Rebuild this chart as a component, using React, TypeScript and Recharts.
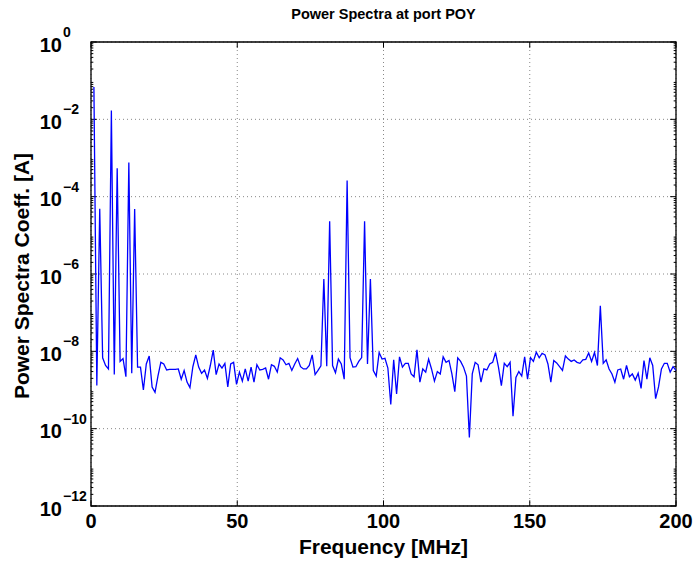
import React from "react";
import {
  LineChart, Line, XAxis, YAxis, CartesianGrid, ReferenceLine, ReferenceArea, Label,
} from "recharts";

const FONT = "'Liberation Sans', Arial, Helvetica, sans-serif";
const BLUE = "#0000ff";

// frequency grid: 201 bins across 0..200 MHz
const FREQ_STEP = 200 / 201;

// power coefficients [A], bin by bin
const band1 = [
  6.9e-2, 1.3e-9, 4.9e-5, 6.8e-9, 4.3e-9, 3.5e-9, 1.7e-2, 2.5e-9, 5.4e-4, 5.5e-9,
  6.5e-9, 2.2e-9, 7.6e-4, 2.7e-9, 4.8e-5, 3.9e-9, 3.9e-9, 1.0e-9, 4.7e-9, 7.6e-9,
  1.2e-9, 8.7e-10, 2.3e-9, 5.2e-9, 4.7e-9, 3.3e-9, 3.4e-9, 3.4e-9, 3.4e-9, 3.5e-9,
  1.9e-9, 3.2e-9, 1.6e-9, 1.15e-9,
];
const band2 = [
  4.0e-9, 8.1e-9, 3.9e-9, 2.7e-9, 3.3e-9, 2.0e-9, 4.3e-9, 1.07e-8, 2.5e-9, 4.7e-9,
  3.7e-9, 4.9e-9, 1.2e-9, 4.7e-9, 5.2e-9, 1.4e-9, 2.9e-9, 1.7e-9, 3.5e-9, 1.7e-9,
  3.9e-9, 1.6e-9, 4.5e-9, 3.3e-9, 3.4e-9, 3.7e-9, 1.9e-9, 4.5e-9, 4.1e-9, 2.9e-9,
  6.8e-9, 6.0e-9, 4.5e-9, 4.9e-9,
];
const band3 = [
  3.2e-9, 4.7e-9, 6.5e-9, 4.0e-9, 3.5e-9, 3.5e-9, 4.3e-9, 8.1e-9, 2.5e-9, 3.2e-9,
  4.2e-9, 7.4e-7, 4.1e-9, 2.3e-5, 4.3e-9, 2.8e-9, 6.3e-9, 4.7e-9, 1.9e-9, 2.6e-4,
  6.9e-9, 3.9e-9, 4.0e-9, 5.5e-9, 6.9e-9, 2.3e-5, 4.7e-9, 7.4e-7, 3.2e-9, 2.3e-9,
  9.3e-9, 6.3e-9, 6.6e-9, 3.7e-9,
];
const band4 = [
  4.2e-10, 6.0e-9, 7.9e-10, 7.2e-9, 3.9e-9, 4.9e-9, 4.9e-9, 2.6e-9, 2.2e-9, 1.1e-8,
  1.6e-9, 3.5e-9, 2.9e-9, 6.3e-9, 3.5e-9, 1.7e-9, 3.0e-9, 2.6e-9, 7.2e-9, 5.2e-9,
  5.8e-9, 2.6e-9, 9.1e-10, 6.8e-9, 5.5e-9, 3.9e-9, 2.3e-9, 5.9e-11, 2.6e-9, 5.2e-9,
  4.5e-9, 1.6e-9, 3.5e-9, 3.3e-9,
];
const band5 = [
  4.7e-9, 5.2e-9, 9.3e-9, 3.9e-9, 1.3e-9, 4.9e-9, 4.0e-9, 5.2e-9, 2.1e-10, 2.1e-9,
  3.0e-9, 2.3e-9, 7.2e-9, 1.9e-9, 6.9e-9, 5.5e-9, 9.5e-9, 6.8e-9, 8.9e-9, 8.1e-9,
  4.7e-9, 1.6e-9, 5.8e-9, 5.0e-9, 4.0e-9, 3.2e-9, 7.6e-9, 6.3e-9, 5.5e-9, 6.0e-9,
  5.2e-9, 4.9e-9, 6.0e-9, 6.2e-9,
];
const band6 = [
  9.1e-9, 5.5e-9, 9.3e-9, 4.3e-9, 1.5e-7, 4.9e-9, 6.0e-9, 3.5e-9, 2.6e-9, 1.6e-9,
  3.3e-9, 3.5e-9, 1.9e-9, 4.3e-9, 2.2e-9, 2.6e-9, 1.8e-9, 2.7e-9, 1.1e-9, 5.8e-9,
  1.9e-9, 6.8e-9, 4.3e-9, 6.0e-10, 1.2e-9, 3.5e-9, 4.9e-9, 4.9e-9, 2.9e-9, 4.0e-9,
  3.2e-9,
];

const X_TICKS = [0, 50, 100, 150, 200];
const Y_TICKS = [1e-12, 1e-10, 1e-8, 1e-6, 1e-4, 1e-2, 1];
const Y_MIN = 1e-12;
const Y_MAX = 1;

const power = [...band1, ...band2, ...band3, ...band4, ...band5, ...band6];
const data = power.map((p, i) => ({ f: (i + 1) * FREQ_STEP, p }));

// minor log ticks (2..9 x 10^n) like matlab draws them
const minorTicks: number[] = [];
for (let e = -12; e < 0; e++) {
  for (let m = 2; m <= 9; m++) minorTicks.push(m * Math.pow(10, e));
}

const YTick = ({ x, y, payload }: any) => {
  const exp = Math.round(Math.log10(payload.value));
  return (
    <g>
      <text x={x - 29} y={y + 9.5} textAnchor="end" fontSize={20} fontWeight="bold" fontFamily={FONT} fill="#000">
        10
      </text>
      <text x={x - 28} y={y - 5} textAnchor="start" fontSize={14} fontWeight="bold" fontFamily={FONT} fill="#000">
        {exp === 0 ? "0" : "\u2212" + Math.abs(exp)}
      </text>
    </g>
  );
};

const XTick = ({ x, y, payload }: any) => (
  <text x={x} y={y + 22} textAnchor="middle" fontSize={20} fontWeight="bold" fontFamily={FONT} fill="#000">
    {payload.value}
  </text>
);

export default function App() {
  return (
    <div style={{ position: "relative", width: 697, height: 561, background: "#fff" }}>
      <style>{"body{margin:0}"}</style>
      <div style={{
        position: "absolute", left: 91, top: 6, width: 585, textAlign: "center",
        fontFamily: FONT, fontWeight: "bold", fontSize: 14.5, color: "#000",
      }}>
        Power Spectra at port POY
      </div>
      <LineChart width={697} height={561} data={data} margin={{ top: 42, right: 21, bottom: 0, left: 0 }}>
        <CartesianGrid stroke="#888" strokeDasharray="1 3" />
        <XAxis
          type="number" dataKey="f" domain={[0, 200]} ticks={X_TICKS}
          axisLine={false} tickLine={false} tickSize={0} tickMargin={0}
          height={55} tick={<XTick />} allowDataOverflow
        >
          <Label
            content={() => (
              <text x={383.5} y={554} textAnchor="middle" fontSize={21} fontWeight="bold" fontFamily={FONT} fill="#000">
                Frequency [MHz]
              </text>
            )}
          />
        </XAxis>
        <YAxis
          scale="log" domain={[Y_MIN, Y_MAX]} ticks={Y_TICKS}
          axisLine={false} tickLine={false} tickSize={0} tickMargin={0}
          width={91} tick={<YTick />} allowDataOverflow
        >
          <Label
            content={() => (
              <text x={0} y={0} transform="translate(29,276) rotate(-90)" textAnchor="middle" fontSize={21} fontWeight="bold" fontFamily={FONT} fill="#000">
                Power Spectra Coeff. [A]
              </text>
            )}
          />
        </YAxis>

        {minorTicks.map(v => (
          <ReferenceLine key={"l" + v} segment={[{ x: 0, y: v }, { x: 0.8, y: v }]} stroke="#000" strokeWidth={1} />
        ))}
        {minorTicks.map(v => (
          <ReferenceLine key={"r" + v} segment={[{ x: 199.2, y: v }, { x: 200, y: v }]} stroke="#000" strokeWidth={1} />
        ))}
        {Y_TICKS.map(v => (
          <ReferenceLine key={"ml" + v} segment={[{ x: 0, y: v }, { x: 2, y: v }]} stroke="#000" strokeWidth={1} />
        ))}
        {Y_TICKS.map(v => (
          <ReferenceLine key={"mr" + v} segment={[{ x: 198, y: v }, { x: 200, y: v }]} stroke="#000" strokeWidth={1} />
        ))}
        {X_TICKS.map(v => (
          <ReferenceLine key={"xb" + v} segment={[{ x: v, y: Y_MIN }, { x: v, y: 1.4e-12 }]} stroke="#000" strokeWidth={1} />
        ))}
        {X_TICKS.map(v => (
          <ReferenceLine key={"xt" + v} segment={[{ x: v, y: 0.71 }, { x: v, y: Y_MAX }]} stroke="#000" strokeWidth={1} />
        ))}

        <Line
          type="linear" dataKey="p" stroke={BLUE} strokeWidth={1.3}
          dot={false} isAnimationActive={false}
        />
        <ReferenceArea x1={0} x2={200} y1={Y_MIN} y2={Y_MAX} fill="none" stroke="#000" strokeWidth={1.3} strokeOpacity={1} />
      </LineChart>
    </div>
  );
}
